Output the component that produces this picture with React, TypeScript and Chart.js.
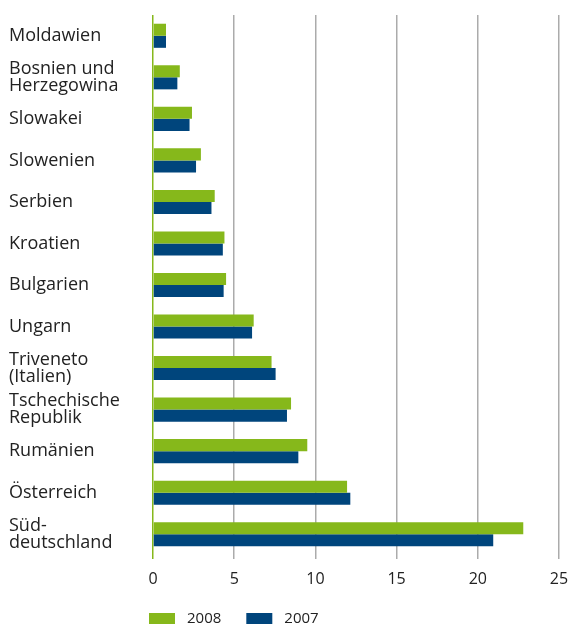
import React, { useEffect, useRef } from "react";
import { Chart, registerables } from "chart.js";

Chart.register(...registerables);

const categories: (string | string[])[] = [
  "Moldawien",
  ["Bosnien und", "Herzegowina"],
  "Slowakei",
  "Slowenien",
  "Serbien",
  "Kroatien",
  "Bulgarien",
  "Ungarn",
  ["Triveneto", "(Italien)"],
  ["Tschechische", "Republik"],
  "Rumänien",
  "Österreich",
  ["Süd-", "deutschland"],
];

const values2008 = [0.8, 1.65, 2.4, 2.95, 3.8, 4.4, 4.5, 6.2, 7.3, 8.5, 9.5, 11.95, 22.8];
const values2007 = [0.8, 1.5, 2.25, 2.65, 3.6, 4.3, 4.35, 6.1, 7.55, 8.25, 8.95, 12.15, 20.95];

const seriesLabels = ["2008", "2007"];
const seriesColors = ["#86b81b", "#00457c"];

const xMin = 0;
const xMax = 25;
const xStep = 5;

const FONT = "'Open Sans', 'Noto Sans', sans-serif";
const TEXT = "#222222";

const bottomLegend = {
  id: "bottomLegend",
  afterDraw(chart: any) {
    const ctx = chart.ctx;
    const area = chart.chartArea;
    const boxW = 26;
    const boxH = 11;
    const boxY = chart.height - boxH;
    const midY = boxY + boxH / 2;
    let x = area.left - 4;
    ctx.save();
    ctx.font = `15px ${FONT}`;
    ctx.textBaseline = "middle";
    ctx.textAlign = "left";
    chart.data.datasets.forEach((ds: any) => {
      ctx.fillStyle = ds.backgroundColor;
      ctx.fillRect(x, boxY, boxW, boxH);
      const tx = x + boxW + 12;
      ctx.fillStyle = TEXT;
      ctx.fillText(ds.label, tx, midY);
      x = tx + ctx.measureText(ds.label).width + 25;
    });
    ctx.restore();
  },
};

export default function App() {
  const canvasRef = useRef<HTMLCanvasElement>(null);

  useEffect(() => {
    if (!canvasRef.current) return;
    const chart = new Chart(canvasRef.current, {
      type: "bar",
      data: {
        labels: categories,
        datasets: [
          {
            label: seriesLabels[0],
            data: values2008,
            backgroundColor: seriesColors[0],
            borderWidth: 0,
            categoryPercentage: 0.58,
            barPercentage: 1.0,
          },
          {
            label: seriesLabels[1],
            data: values2007,
            backgroundColor: seriesColors[1],
            borderWidth: 0,
            categoryPercentage: 0.58,
            barPercentage: 1.0,
          },
        ],
      },
      options: {
        indexAxis: "y",
        responsive: false,
        animation: false,
        layout: { padding: { top: 15, left: 9, right: 9, bottom: 35 } },
        plugins: {
          legend: { display: false },
          tooltip: { enabled: false },
        },
        scales: {
          x: {
            min: xMin,
            max: xMax,
            border: { display: false },
            grid: {
              color: (c: any) => (c.tick && c.tick.value === 0 ? seriesColors[0] : "#ababab"),
              lineWidth: 1.5,
              tickLength: 4,
              drawTicks: true,
            },
            ticks: {
              stepSize: xStep,
              color: TEXT,
              padding: 11,
              font: { family: FONT, size: 16 },
            },
            afterFit: (scale: any) => {
              scale.height = 34;
              scale.paddingLeft = 0;
              scale.paddingRight = 0;
            },
          },
          y: {
            border: { display: false },
            grid: { display: false, drawTicks: false },
            ticks: {
              color: TEXT,
              crossAlign: "far",
              autoSkip: false,
              font: { family: FONT, size: 18, lineHeight: 0.95 },
            },
            afterFit: (scale: any) => {
              scale.width = 144;
              scale.paddingTop = 0;
              scale.paddingBottom = 0;
            },
          },
        },
      },
      plugins: [bottomLegend],
    });
    return () => chart.destroy();
  }, []);

  return (
    <div style={{ position: "absolute", left: 0, top: 0, width: 568, height: 624 }}>
      <canvas ref={canvasRef} width={568} height={624} style={{ display: "block" }} />
    </div>
  );
}
